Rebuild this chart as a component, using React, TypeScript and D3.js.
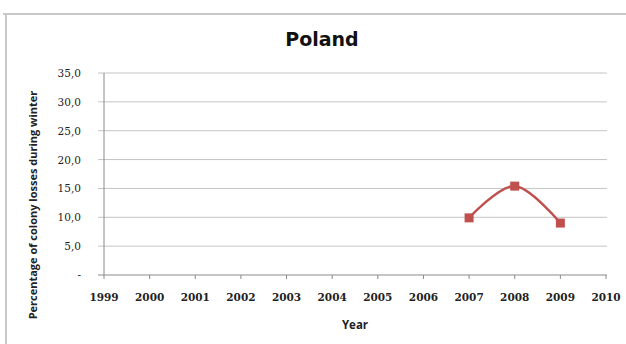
import React from "react";
import * as d3 from "d3";

const years = [2007, 2008, 2009];
const losses = [9.9, 15.4, 9.0];
const xTickYears = [1999, 2000, 2001, 2002, 2003, 2004, 2005, 2006, 2007, 2008, 2009, 2010];
const yTickValues = [0, 5, 10, 15, 20, 25, 30, 35];
const titleText = "Poland";
const xTitle = "Year";
const yTitle = "Percentage of colony losses during winter";

const W = 626;
const H = 344;

export default function App() {
  const x = d3.scaleLinear().domain([1999, 2010]).range([104, 606]);
  const y = d3.scaleLinear().domain([0, 35]).range([275, 73]);
  const line = d3
    .line<number>()
    .x((_, i) => x(years[i]))
    .y((d) => y(d))
    .curve(d3.curveCardinal.tension(0));
  const fmt = (v: number) => (v === 0 ? "-" : v.toFixed(1).replace(".", ","));
  const red = "#c0504d";
  return (
    <svg
      width={W}
      height={H}
      style={{ position: "absolute", left: 0, top: 0, background: "#fff" }}
    >
      <rect x={0} y={0} width={W} height={H} fill="#fff" />
      {/* frame */}
      <line x1={3} x2={W} y1={14} y2={14} stroke="#c8c8c8" strokeWidth={2} />
      <line x1={6} x2={6} y1={14} y2={H} stroke="#c8c8c8" strokeWidth={2} />
      {/* title */}
      <text
        x={322}
        y={46}
        textAnchor="middle"
        fontFamily="'DejaVu Sans', sans-serif"
        fontWeight="bold"
        fontSize={19}
        fill="#111"
      >
        {titleText}
      </text>
      {/* gridlines */}
      {yTickValues.map((v) => (
        <line
          key={v}
          x1={98}
          x2={607}
          y1={y(v)}
          y2={y(v)}
          stroke={v === 0 ? "#8a8a8a" : "#c4c4c4"}
          strokeWidth={1}
        />
      ))}
      {/* y axis line */}
      <line x1={x(1999)} x2={x(1999)} y1={y(35)} y2={y(0)} stroke="#8a8a8a" strokeWidth={1} />
      {/* y tick labels */}
      {yTickValues.map((v) => (
        <text
          key={v}
          x={81}
          y={y(v) + 4}
          textAnchor="end"
          fontFamily="'DejaVu Serif', serif"
          fontSize={10.5}
          fill="#222"
        >
          {fmt(v)}
        </text>
      ))}
      {/* x ticks */}
      {xTickYears.map((yr) => (
        <g key={yr}>
          <line x1={x(yr)} x2={x(yr)} y1={y(0)} y2={y(0) + 4} stroke="#8a8a8a" strokeWidth={1} />
          <text
            x={x(yr)}
            y={301}
            textAnchor="middle"
            fontFamily="'DejaVu Serif', serif"
            fontWeight="bold"
            fontSize={10.5}
            fill="#222"
          >
            {yr}
          </text>
        </g>
      ))}
      {/* axis titles */}
      <text
        x={355}
        y={329}
        textAnchor="middle"
        fontFamily="'Open Sans', sans-serif"
        fontWeight="bold"
        fontSize={11.5}
        fill="#222"
      >
        {xTitle}
      </text>
      <text
        transform="translate(37,205) rotate(-90)"
        textAnchor="middle"
        fontFamily="'Open Sans', sans-serif"
        fontWeight="bold"
        fontSize={11}
        fill="#222"
      >
        {yTitle}
      </text>
      {/* series */}
      <path d={line(losses) || ""} fill="none" stroke={red} strokeWidth={2.5} />
      {losses.map((v, i) => (
        <rect
          key={i}
          x={x(years[i]) - 4.5}
          y={y(v) - 4.5}
          width={9}
          height={9}
          fill={red}
        />
      ))}
    </svg>
  );
}
